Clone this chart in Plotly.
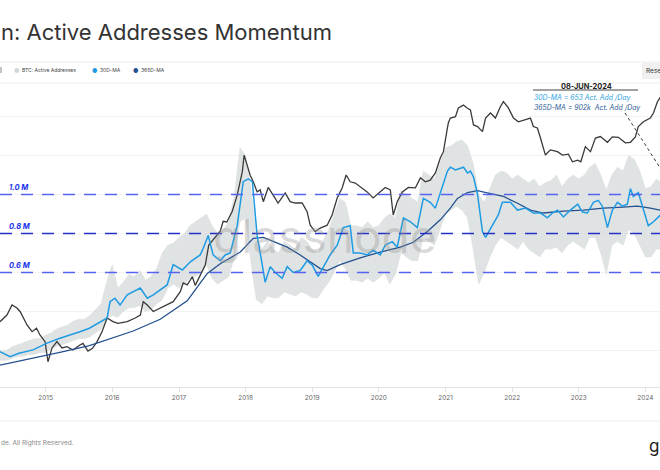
import plotly.graph_objects as go
import pandas as pd

# ---------------- data ----------------
price_dates = [
    "2014-04-26", "2014-06-03", "2014-07-01", "2014-07-28", "2014-08-15", "2014-09-21", "2014-10-19",
    "2014-11-12", "2014-12-01", "2014-12-29", "2015-01-14", "2015-02-05", "2015-03-04", "2015-04-01",
    "2015-04-28", "2015-05-31", "2015-07-08", "2015-07-25", "2015-08-21", "2015-09-15", "2015-10-10",
    "2015-11-06", "2015-12-04", "2016-01-05", "2016-02-02", "2016-03-23", "2016-05-06", "2016-06-03",
    "2016-06-19", "2016-07-11", "2016-08-13", "2016-09-20", "2016-10-28", "2016-11-30", "2017-01-08",
    "2017-01-24", "2017-02-15", "2017-03-15", "2017-03-31", "2017-04-27", "2017-05-25", "2017-06-13",
    "2017-07-15", "2017-08-15", "2017-08-31", "2017-09-20", "2017-10-20", "2017-11-16", "2017-12-14",
    "2017-12-24", "2018-01-26", "2018-02-12", "2018-03-05", "2018-03-22", "2018-04-08", "2018-05-05",
    "2018-06-01", "2018-06-28", "2018-08-06", "2018-09-02", "2018-09-30", "2018-11-07", "2018-12-04",
    "2018-12-21", "2019-01-17", "2019-02-14", "2019-03-24", "2019-04-20", "2019-05-18", "2019-06-14",
    "2019-07-06", "2019-07-28", "2019-08-25", "2019-09-21", "2019-10-29", "2019-12-01", "2020-01-09",
    "2020-02-05", "2020-03-04", "2020-03-20", "2020-04-11", "2020-05-09", "2020-06-11", "2020-07-19",
    "2020-08-16", "2020-09-12", "2020-10-09", "2020-11-06", "2020-12-03", "2020-12-20", "2021-01-11",
    "2021-01-16", "2021-01-27", "2021-02-24", "2021-03-12", "2021-04-09", "2021-05-01", "2021-05-17",
    "2021-06-03", "2021-06-25", "2021-07-22", "2021-08-08", "2021-09-04", "2021-10-01", "2021-10-28",
    "2021-11-14", "2021-12-11", "2022-01-08", "2022-02-04", "2022-03-15", "2022-04-11", "2022-04-27",
    "2022-05-19", "2022-06-05", "2022-07-02", "2022-07-29", "2022-09-06", "2022-10-03", "2022-11-05",
    "2022-11-27", "2022-12-26", "2023-01-12", "2023-02-06", "2023-03-06", "2023-04-02", "2023-04-29",
    "2023-06-07", "2023-07-04", "2023-08-06", "2023-09-13", "2023-10-11", "2023-11-07", "2023-11-23",
    "2023-12-21", "2024-01-28", "2024-02-14", "2024-03-07", "2024-03-20", "2024-03-31",
]
price_usd = [
    423, 493, 621, 580, 532, 392, 336,
    363, 311, 267, 168, 231, 267, 231,
    238, 220, 247, 257, 215, 229, 267,
    336, 460, 423, 407, 423, 460, 493,
    670, 620, 535, 580, 620, 670, 843,
    1030, 985, 1190, 975, 1240, 1560, 2470,
    2900, 3400, 4270, 4200, 5370, 7800, 13370,
    19600, 12300, 10600, 8400, 8800, 6700, 9300,
    7800, 6500, 8200, 6700, 6500, 6500, 5320,
    3900, 3360, 3650, 3900, 4930, 7300, 9200,
    12400, 10600, 10300, 9450, 8400, 7300, 8400,
    9300, 8800, 4930, 6700, 8400, 9300, 9200,
    11600, 10600, 11000, 13000, 18300, 21200, 36600,
    41000, 46000, 47400, 58000, 62000, 57600, 55500,
    39200, 37800, 33600, 46000, 51600, 46000, 59700,
    67000, 58000, 46000, 42200, 44300, 46000, 37800,
    36600, 29000, 19600, 22100, 21200, 19600, 20000,
    16800, 17400, 16800, 23800, 21200, 29000, 30000,
    26300, 29800, 29500, 26000, 26300, 29800, 37800,
    42200, 46000, 51600, 67000, 73000, 70000,
]

ma30_dates = [
    "2014-04-26", "2014-06-20", "2014-08-08", "2014-10-24", "2015-01-09", "2015-03-20", "2015-07-08",
    "2015-08-29", "2015-12-04", "2015-12-20", "2016-01-16", "2016-02-13", "2016-03-23", "2016-06-03",
    "2016-07-11", "2016-08-13", "2016-10-28", "2016-11-30", "2017-01-19", "2017-03-04", "2017-04-27",
    "2017-05-14", "2017-06-10", "2017-07-07", "2017-08-15", "2017-09-11", "2017-10-09", "2017-11-16",
    "2017-12-19", "2018-01-16", "2018-02-07", "2018-03-05", "2018-04-02", "2018-04-18", "2018-05-16",
    "2018-06-12", "2018-07-20", "2018-08-17", "2018-09-19", "2018-10-27", "2018-12-04", "2019-01-01",
    "2019-02-03", "2019-03-03", "2019-04-09", "2019-05-18", "2019-06-20", "2019-07-28", "2019-08-14",
    "2019-09-21", "2019-10-29", "2019-12-01", "2020-01-09", "2020-02-05", "2020-03-15", "2020-04-11",
    "2020-05-15", "2020-06-22", "2020-07-30", "2020-09-01", "2020-10-09", "2020-11-06", "2020-12-03",
    "2021-01-11", "2021-01-27", "2021-02-24", "2021-04-09", "2021-05-01", "2021-05-17", "2021-06-03",
    "2021-06-25", "2021-07-22", "2021-08-08", "2021-09-15", "2021-10-17", "2021-11-08", "2021-12-22",
    "2022-01-30", "2022-03-15", "2022-04-27", "2022-06-05", "2022-07-13", "2022-08-09", "2022-09-06",
    "2022-10-09", "2022-11-16", "2022-12-26", "2023-01-21", "2023-02-17", "2023-03-22", "2023-04-18",
    "2023-05-10", "2023-06-07", "2023-07-04", "2023-08-01", "2023-08-28", "2023-09-24", "2023-10-11",
    "2023-10-27", "2023-11-23", "2023-12-21", "2024-01-17", "2024-02-14", "2024-03-23", "2024-03-31",
]
ma30_m = [
    0.194, 0.168, 0.186, 0.203, 0.238, 0.263, 0.296,
    0.314, 0.367, 0.450, 0.468, 0.433, 0.485, 0.520,
    0.468, 0.485, 0.536, 0.640, 0.613, 0.655, 0.690,
    0.724, 0.790, 0.690, 0.660, 0.690, 0.700, 0.840,
    1.066, 1.080, 1.066, 0.790, 0.640, 0.550, 0.630,
    0.600, 0.570, 0.630, 0.600, 0.610, 0.660, 0.638,
    0.580, 0.630, 0.690, 0.740, 0.830, 0.840, 0.700,
    0.700, 0.690, 0.715, 0.690, 0.740, 0.758, 0.730,
    0.880, 0.860, 0.830, 0.980, 0.960, 0.930, 1.010,
    1.120, 1.140, 1.126, 1.140, 1.110, 1.120, 1.090,
    1.000, 0.810, 0.780, 0.840, 0.895, 0.960, 0.960,
    0.920, 0.930, 0.905, 0.905, 0.880, 0.905, 0.920,
    0.885, 0.920, 0.950, 0.910, 0.905, 0.960, 0.970,
    0.940, 0.830, 0.920, 0.960, 0.940, 0.950, 1.030,
    0.990, 1.010, 0.920, 0.840, 0.860, 0.895, 0.880,
]

ma365_dates = [
    "2014-04-26", "2014-10-24", "2015-03-20", "2015-08-29", "2015-12-20", "2016-04-25", "2016-09-20",
    "2017-02-15", "2017-04-27", "2017-06-05", "2017-08-15", "2017-12-03", "2018-02-12", "2018-04-08",
    "2018-06-01", "2018-08-17", "2018-10-27", "2018-12-21", "2019-02-14", "2019-03-24", "2019-06-03",
    "2019-09-21", "2020-01-09", "2020-04-28", "2020-07-08", "2020-09-23", "2020-12-03", "2021-01-27",
    "2021-03-07", "2021-05-01", "2021-06-25", "2021-09-04", "2021-11-14", "2022-01-30", "2022-04-11",
    "2022-06-21", "2022-10-09", "2023-01-26", "2023-05-16", "2023-09-02", "2023-11-18", "2024-01-28",
    "2024-03-23", "2024-03-31",
]
ma365_m = [
    0.125, 0.160, 0.190, 0.225, 0.260, 0.300, 0.360,
    0.455, 0.545, 0.595, 0.645, 0.705, 0.775, 0.780,
    0.760, 0.730, 0.690, 0.655, 0.620, 0.610, 0.640,
    0.675, 0.705, 0.730, 0.755, 0.810, 0.870, 0.930,
    0.980, 1.010, 1.020, 1.005, 0.990, 0.955, 0.920,
    0.905, 0.915, 0.920, 0.930, 0.935, 0.940, 0.930,
    0.920, 0.918,
]

# daily active addresses: monthly upper / lower envelope of the grey band (millions)
gray_dates = pd.date_range("2014-04-01", "2024-04-01", freq="MS")
gray_hi_m = [
    0.22, 0.20, 0.20, 0.22, 0.23, 0.24, 0.25, 0.26, 0.26,
    0.28, 0.29, 0.31, 0.32, 0.33, 0.35, 0.36, 0.36, 0.38, 0.41, 0.44, 0.55,
    0.64, 0.52, 0.55, 0.59, 0.58, 0.61, 0.56, 0.58, 0.62, 0.70, 0.74, 0.75,
    0.78, 0.80, 0.84, 0.86, 0.88, 0.90, 0.84, 0.80, 0.82, 0.86, 1.00, 1.24,
    1.20, 1.02, 0.78, 0.72, 0.76, 0.72, 0.70, 0.76, 0.74, 0.72, 0.78, 0.76,
    0.72, 0.70, 0.76, 0.82, 0.90, 0.98, 0.96, 0.84, 0.84, 0.83, 0.86, 0.83,
    0.84, 0.88, 0.90, 0.88, 1.02, 1.00, 0.98, 0.96, 1.12, 1.10, 1.08, 1.16,
    1.24, 1.25, 1.27, 1.28, 1.25, 1.16, 1.00, 0.96, 1.03, 1.10, 1.12, 1.11,
    1.08, 1.10, 1.08, 1.06, 1.08, 1.04, 1.06, 1.07, 1.10, 1.04, 1.08, 1.10,
    1.08, 1.10, 1.14, 1.16, 1.10, 1.02, 1.10, 1.14, 1.12, 1.20, 1.18, 1.12,
    1.03, 1.04, 1.08, 1.06,
]
gray_lo_m = [
    0.16, 0.15, 0.15, 0.16, 0.17, 0.17, 0.18, 0.18, 0.19,
    0.19, 0.21, 0.22, 0.23, 0.24, 0.25, 0.26, 0.26, 0.27, 0.29, 0.31, 0.36,
    0.38, 0.37, 0.40, 0.42, 0.42, 0.43, 0.40, 0.41, 0.44, 0.46, 0.52, 0.54,
    0.52, 0.54, 0.57, 0.58, 0.60, 0.64, 0.57, 0.54, 0.56, 0.58, 0.68, 0.86,
    0.88, 0.64, 0.46, 0.44, 0.48, 0.47, 0.47, 0.50, 0.49, 0.48, 0.50, 0.49,
    0.47, 0.47, 0.51, 0.55, 0.60, 0.66, 0.62, 0.56, 0.56, 0.55, 0.57, 0.55,
    0.57, 0.60, 0.54, 0.59, 0.70, 0.68, 0.66, 0.66, 0.78, 0.76, 0.74, 0.82,
    0.90, 0.92, 0.94, 0.92, 0.88, 0.72, 0.54, 0.60, 0.68, 0.74, 0.78, 0.76,
    0.74, 0.72, 0.76, 0.72, 0.70, 0.68, 0.72, 0.72, 0.73, 0.70, 0.74, 0.76,
    0.74, 0.72, 0.78, 0.78, 0.70, 0.59, 0.74, 0.76, 0.74, 0.82, 0.80, 0.74,
    0.68, 0.68, 0.72, 0.72,
]

level_values_m = [1.0, 0.8, 0.6]
level_labels = ["1.0 M", "0.8 M", "0.6 M"]
level_colors = ["#5563ee", "#2430c8", "#5563ee"]

M = 1_000_000

# ---------------- layout helpers (pixel -> paper) ----------------
W, H = 660, 470
TOP, BOT = 85, 387


def px(x):
    return x / W


def py(y):
    return (BOT - y) / (BOT - TOP)


FONT = "Inter, Roboto, 'Open Sans', sans-serif"
C_GRAY = "rgba(214,218,218,0.75)"
C_30 = "#1f9be3"
C_365 = "#24508f"
C_PRICE = "#3a3a3a"

fig = go.Figure()

fig.add_trace(go.Scatter(x=gray_dates, y=[v * M for v in gray_lo_m], mode="lines",
                         line=dict(width=0.5, color="#dadddd"), hoverinfo="skip", showlegend=False))
fig.add_trace(go.Scatter(x=gray_dates, y=[v * M for v in gray_hi_m], mode="lines", fill="tonexty",
                         fillcolor=C_GRAY, line=dict(width=0.5, color="#dadddd"),
                         name="BTC: Active Addresses", showlegend=False))
fig.add_trace(go.Scatter(x=price_dates, y=price_usd, yaxis="y2", mode="lines",
                         line=dict(color=C_PRICE, width=1.3), name="Price", showlegend=False))
fig.add_trace(go.Scatter(x=ma365_dates, y=[v * M for v in ma365_m], yaxis="y3", mode="lines",
                         line=dict(color=C_365, width=1.3), name="365D-MA", showlegend=False))
fig.add_trace(go.Scatter(x=ma30_dates, y=[v * M for v in ma30_m], yaxis="y3", mode="lines",
                         line=dict(color=C_30, width=1.5), name="30D-MA", showlegend=False))

aa_range = [0.0128 * M, 1.5615 * M]

shapes = []
annotations = []

for v, lab, col in zip(level_values_m, level_labels, level_colors):
    shapes.append(dict(type="line", xref="paper", yref="y", x0=0, x1=1, y0=v * M, y1=v * M,
                       line=dict(color=col, width=1.4, dash="12px,9px")))
    annotations.append(dict(xref="paper", yref="y", x=px(7), y=v * M, xanchor="left", yanchor="bottom",
                            text="<b><i>" + lab + "</i></b>", showarrow=False, yshift=0,
                            font=dict(size=7.5, color="#2233ee", family=FONT)))

# legend strip lines, bottom separator
for yy in (62, 83, 421):
    shapes.append(dict(type="line", xref="paper", yref="paper", x0=0, x1=1, y0=py(yy), y1=py(yy),
                       line=dict(color="#ececec", width=1)))
shapes.append(dict(type="line", xref="paper", yref="paper", x0=px(1), x1=px(1), y0=py(67), y1=py(73),
                   line=dict(color="#888888", width=1)))
# reset button
shapes.append(dict(type="rect", xref="paper", yref="paper", x0=px(642), x1=px(668), y0=py(79), y1=py(63),
                   fillcolor="#f0f0f0", line=dict(width=0)))
# annotation underline and dotted leader
shapes.append(dict(type="line", xref="paper", yref="paper", x0=px(533), x1=px(638), y0=py(90), y1=py(90),
                   line=dict(color="#444444", width=1)))
shapes.append(dict(type="line", xref="paper", yref="paper", x0=px(625), x1=px(664), y0=py(113), y1=py(174),
                   line=dict(color="#333333", width=1, dash="dot")))


def txt(x, y, s, size, color, anchor="left", **kw):
    annotations.append(dict(xref="paper", yref="paper", x=px(x), y=py(y), xanchor=anchor, yanchor="middle",
                            text=s, showarrow=False, font=dict(size=size, color=color, family=FONT), **kw))


# watermark
txt(325, 236, "glassnode", 46, "rgba(150,150,150,0.35)", anchor="center")
# title
txt(-1, 32, "n: Active Addresses Momentum", 22, "#333333")
# legend
txt(16, 70, "●", 6, "#d4d6d6", anchor="center")
txt(19.5, 70, "BTC: Active Addresses", 5, "#444444")
txt(94, 70, "●", 6, C_30, anchor="center")
txt(97.5, 70, "30D-MA", 5, "#444444")
txt(135, 70, "●", 6, C_365, anchor="center")
txt(138.5, 70, "365D-MA", 5, "#444444")
txt(644, 71, "Rese", 6.5, "#333333")
# callout
txt(586, 86.5, "<b>08-JUN-2024</b>", 7.4, "#222222", anchor="center")
txt(532, 97, "<i>30D-MA = 653 Act. Add /Day</i>", 6.9, "#2a9fe0")
txt(532, 107.5, "<i>365D-MA = 902k\u00a0 Act. Add /Day</i>", 6.9, "#2c5a94")
# footer
txt(-1, 443, "de. All Rights Reserved.", 6.5, "#8a8a8a")
txt(647, 446, "g", 17, "#222222")

fig.update_layout(
    width=W, height=H,
    margin=dict(l=0, r=0, t=TOP, b=H - BOT, pad=0),
    paper_bgcolor="white", plot_bgcolor="white",
    font=dict(family=FONT),
    showlegend=False,
    xaxis=dict(type="date", range=["2014-04-26", "2024-03-21"], showgrid=False, zeroline=False,
               showline=True, linecolor="#e3e3e3", linewidth=1,
               ticks="outside", ticklen=4, tickcolor="#e3e3e3",
               tick0="2015-01-01", dtick="M12", tickformat="%Y",
               tickfont=dict(size=6.5, color="#666666", family=FONT)),
    yaxis=dict(range=aa_range, showgrid=True, gridcolor="#f3f3f3", dtick=200000, tick0=0,
               showticklabels=False, zeroline=False, ticks=""),
    yaxis2=dict(type="log", range=[1.973, 4.993], overlaying="y", side="right", showgrid=False,
                showticklabels=False, zeroline=False, ticks=""),
    yaxis3=dict(range=aa_range, overlaying="y", showgrid=False, showticklabels=False,
                zeroline=False, ticks=""),
    shapes=shapes,
    annotations=annotations,
)

fig.write_html("out.html", config={"displayModeBar": False},
               post_script="document.body.style.margin='0';")
